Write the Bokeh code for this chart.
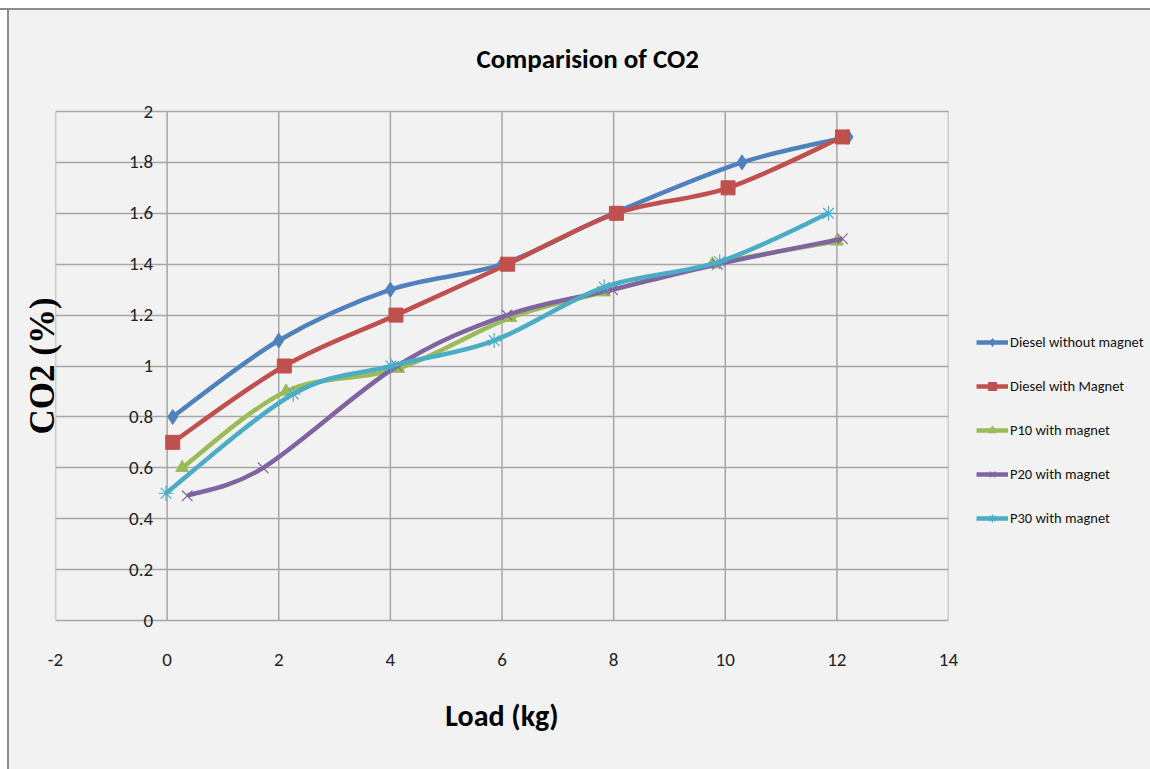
from bokeh.plotting import figure
from bokeh.models import (Legend, LegendItem, Spacer, Title, FixedTicker, ColumnDataSource,
                          LinearAxis, NumeralTickFormatter, CustomJSTickFormatter)
from bokeh.layouts import column, row
from bokeh.embed import file_html
from bokeh.resources import INLINE

# ---- data ----
series_names = ["Diesel without magnet", "Diesel with Magnet", "P10 with magnet",
                "P20 with magnet", "P30 with magnet"]
diesel_x = [0.1, 2.0, 4.0, 6.0, 8.0, 10.3, 12.2]
diesel_y = [0.8, 1.1, 1.3, 1.4, 1.6, 1.8, 1.9]
dmag_x = [0.1, 2.1, 4.1, 6.1, 8.05, 10.05, 12.1]
dmag_y = [0.7, 1.0, 1.2, 1.4, 1.6, 1.7, 1.9]
p10_x = [0.27, 2.13, 4.14, 6.15, 7.83, 9.77, 12.0]
p10_y = [0.6, 0.9, 0.99, 1.19, 1.29, 1.4, 1.49]
p20_x = [0.36, 1.72, 4.12, 6.09, 7.98, 9.86, 12.1]
p20_y = [0.49, 0.6, 1.0, 1.2, 1.3, 1.4, 1.5]
p30_x = [-0.02, 2.26, 4.01, 5.86, 7.83, 9.9, 11.85]
p30_y = [0.5, 0.89, 1.0, 1.1, 1.31, 1.41, 1.6]

x_ticks = [-2, 0, 2, 4, 6, 8, 10, 12, 14]
y_ticks = [0, 0.2, 0.4, 0.6, 0.8, 1.0, 1.2, 1.4, 1.6, 1.8, 2.0]
y_min, y_max = 0, 2

colors = ["#4F81BD", "#C0504D", "#9BBB59", "#8064A2", "#4BACC6"]
markers = ["diamond", "square", "triangle", "x", "asterisk"]
msizes = [15, 14, 13, 15, 15]

NARROW = "Carlito, 'DejaVu Sans Condensed', Roboto, sans-serif"
SERIF = "'Times New Roman', 'Liberation Serif', serif"
GRID = "#a6a6a6"

# 12 px of padding above/below the 0..2 plot area so the end tick labels are not clipped
PAD_PX = 12
PLOT_PX = 509
pad = PAD_PX * (y_max - y_min) / PLOT_PX

p = figure(frame_width=893, frame_height=PLOT_PX + 2 * PAD_PX, x_range=(-2, 14),
           y_range=(y_min - pad, y_max + pad),
           output_backend="svg", toolbar_location=None,
           min_border_left=46, min_border_right=202, min_border_top=101 - PAD_PX,
           min_border_bottom=149 - PAD_PX)
p.background_fill_color = "#f2f2f2"
p.border_fill_color = "#f2f2f2"
p.outline_line_color = None

t = Title(text="Comparision of CO2", align="left", text_font=NARROW,
          text_font_size="27px", text_font_style="bold", text_color="#000000",
          standoff=49, offset=421)
p.add_layout(t, "above")

p.xaxis.ticker = FixedTicker(ticks=x_ticks)
p.xaxis.formatter = NumeralTickFormatter(format="0")
p.xgrid.visible = False
p.ygrid.ticker = FixedTicker(ticks=y_ticks)
p.ygrid.grid_line_color = GRID
p.ygrid.grid_line_width = 1.5

# vertical grid lines limited to the 0..2 plot area
vsrc = ColumnDataSource(dict(x=x_ticks, y0=[y_min] * len(x_ticks), y1=[y_max] * len(x_ticks)))
p.segment(x0="x", y0="y0", x1="x", y1="y1", source=vsrc, line_color=GRID, line_width=1.5,
          level="underlay")

p.xaxis.axis_line_color = None
p.xaxis.major_tick_line_color = None
p.xaxis.minor_tick_line_color = None
p.xaxis.major_label_standoff = 15
p.xaxis.major_label_text_font = NARROW
p.xaxis.major_label_text_font_size = "19px"
p.xaxis.major_label_text_color = "#222222"
p.xaxis.axis_label = "Load (kg)"
p.xaxis.axis_label_text_font = NARROW
p.xaxis.axis_label_text_font_size = "30px"
p.xaxis.axis_label_text_font_style = "bold"
p.xaxis.axis_label_text_color = "#000000"
p.xaxis.axis_label_standoff = 28

# value axis drawn where x = 0 (it takes no side-panel space)
ya = p.yaxis[0]
ya.fixed_location = 0
ya.ticker = FixedTicker(ticks=y_ticks)
ya.formatter = CustomJSTickFormatter(code="return String(Math.round(tick*10)/10);")
ya.axis_line_color = None
ya.major_tick_line_color = None
ya.minor_tick_line_color = None
ya.major_label_standoff = 8
ya.major_label_text_font = NARROW
ya.major_label_text_font_size = "19px"
ya.major_label_text_color = "#222222"
ya.axis_label = None

# separate axis only carrying the title "CO2 (%)"
lab_axis = LinearAxis(ticker=FixedTicker(ticks=[]), axis_label="CO2 (%)",
                      axis_label_text_font=SERIF, axis_label_text_font_size="35px",
                      axis_label_text_font_style="bold", axis_label_text_color="#000000",
                      axis_label_standoff=-6, axis_line_color=None, major_tick_line_color=None,
                      minor_tick_line_color=None, major_label_text_font_size="0px",
                      major_label_standoff=0)
p.add_layout(lab_axis, "left")


def bezier_segments(xs, ys, k=1.0 / 6.0):
    n = len(xs)
    x0, y0, x1, y1, cx0, cy0, cx1, cy1 = [], [], [], [], [], [], [], []
    for i in range(n - 1):
        ip = max(i - 1, 0)
        inn = min(i + 2, n - 1)
        x0.append(xs[i]); y0.append(ys[i])
        x1.append(xs[i + 1]); y1.append(ys[i + 1])
        cx0.append(xs[i] + (xs[i + 1] - xs[ip]) * k)
        cy0.append(ys[i] + (ys[i + 1] - ys[ip]) * k)
        cx1.append(xs[i + 1] - (xs[inn] - xs[i]) * k)
        cy1.append(ys[i + 1] - (ys[inn] - ys[i]) * k)
    return dict(x0=x0, y0=y0, x1=x1, y1=y1, cx0=cx0, cy0=cy0, cx1=cx1, cy1=cy1)


all_x = [diesel_x, dmag_x, p10_x, p20_x, p30_x]
all_y = [diesel_y, dmag_y, p10_y, p20_y, p30_y]
items = []
for name, xs, ys, c, m, s in zip(series_names, all_x, all_y, colors, markers, msizes):
    seg = ColumnDataSource(bezier_segments(xs, ys))
    bz = p.bezier(x0="x0", y0="y0", x1="x1", y1="y1", cx0="cx0", cy0="cy0", cx1="cx1", cy1="cy1",
                  source=seg, line_color=c, line_width=4.5)
    if m in ("x", "asterisk"):
        sc = p.scatter(xs, ys, marker=m, size=s, line_color=c, line_width=1.2, fill_color=c)
    else:
        sc = p.scatter(xs, ys, marker=m, size=s, line_color=c, fill_color=c)
    items.append(LegendItem(label=name, renderers=[bz, sc]))

legend = Legend(items=items, location=(28, 92 + PAD_PX), orientation="vertical",
                glyph_width=32, glyph_height=20, label_standoff=2, spacing=24,
                label_text_font=NARROW, label_text_font_size="14.5px",
                label_text_color="#111111", background_fill_alpha=0,
                border_line_alpha=0, padding=0, margin=0)
p.add_layout(legend, "right")

gray = "#8c8c8c"
top_white = Spacer(width=1150, height=8, styles={"background-color": "#ffffff"})
top_line = Spacer(width=1150, height=2, styles={"background-color": gray})
left_white = Spacer(width=7, height=759, styles={"background-color": "#ffffff"})
left_line = Spacer(width=2, height=759, styles={"background-color": gray})
body = row(left_white, left_line, p, spacing=0, styles={"background-color": "#f2f2f2"})
layout = column(top_white, top_line, body, spacing=0, styles={"background-color": "#f2f2f2"})

open("out.html", "w").write(file_html(layout, INLINE))
